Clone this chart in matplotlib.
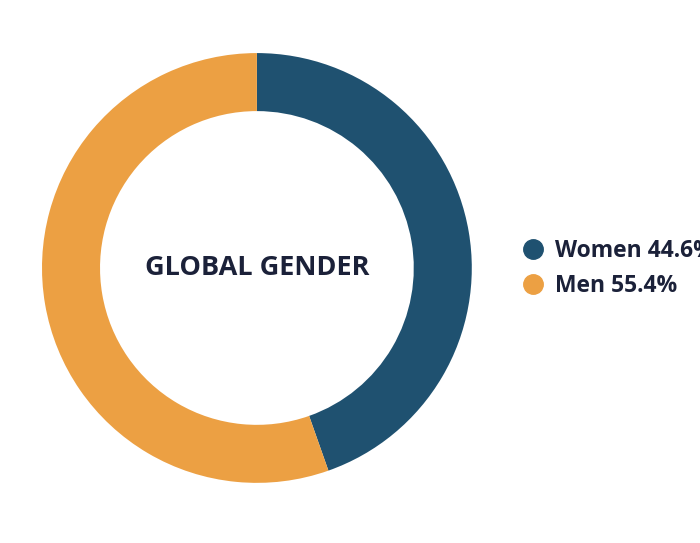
import matplotlib.pyplot as plt
from matplotlib.lines import Line2D

# Data
labels = ["Women", "Men"]
shares = [44.6, 55.4]
colors = ["#1f5170", "#eca043"]
title = "GLOBAL GENDER"
text_color = "#1b2139"

fig = plt.figure(figsize=(7, 5.43), dpi=100)
ax = fig.add_axes([0.06, 0.1105, 0.614, 0.792])

ax.pie(shares, colors=colors, startangle=90, counterclock=False, radius=1,
       wedgeprops=dict(width=0.27, linewidth=0))
ax.set_xlim(-1, 1)
ax.set_ylim(-1, 1)
ax.set_aspect("equal")
ax.axis("off")

ax.text(0, 0.0, title, ha="center", va="center", fontsize=19.5,
        fontweight="bold", color=text_color, family="Open Sans")

handles = [Line2D([], [], marker="o", linestyle="", markersize=14,
                  markerfacecolor=c, markeredgecolor=c) for c in colors]
legend_labels = [f"{l} {v}%" for l, v in zip(labels, shares)]
leg = fig.legend(handles, legend_labels, loc="upper left",
                 bbox_to_anchor=(0.716, 0.598), frameon=False,
                 handletextpad=0.45, labelspacing=0.5, handlelength=1.0,
                 prop=dict(family="Open Sans", weight="bold", size=16.5))
for t in leg.get_texts():
    t.set_color(text_color)

fig.savefig("out.png", dpi=100, facecolor="white")
